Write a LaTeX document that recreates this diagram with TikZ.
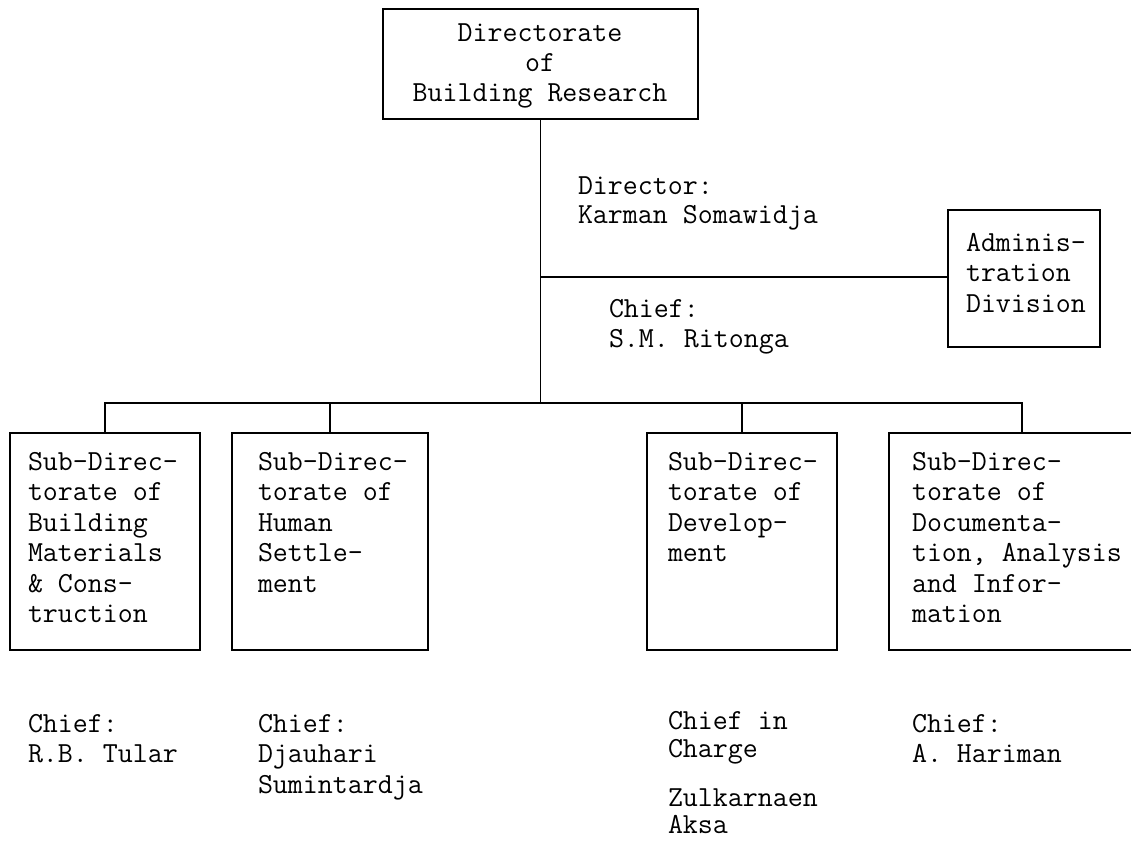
\documentclass[tikz,border=0pt]{standalone}
\usepackage{fontspec}
\begin{document}
\begin{tikzpicture}[x=1pt,y=-1pt,
  every node/.style={inner sep=0pt, outer sep=0pt},
  line/.style={line width=1.8pt, black},
  boxshape/.style={draw, line width=1.8pt, anchor=north west, minimum width=#1},
  txt/.style={anchor=north west, align=left, font=\ttfamily\fontsize{29.1}{30.5}\selectfont},
  ctxt/.style={anchor=north, align=center, font=\ttfamily\fontsize{29.1}{30}\selectfont}
]
\useasboundingbox (0,0) rectangle (1131,842);
\newcommand{\fs}{\rule{0pt}{24pt}}
% boxes
\node[boxshape=315, minimum height=110] (top) at (383,9) {};
\node[boxshape=152, minimum height=137] (admin) at (948,210) {};
\node[boxshape=190, minimum height=217] (b1) at (10,433) {};
\node[boxshape=196, minimum height=217] (b2) at (232,433) {};
\node[boxshape=190, minimum height=217] (b3) at (647,433) {};
\node[anchor=north west, minimum width=242, minimum height=217] (b4) at (889,433) {};
\draw[line] (b4.north east) -- (b4.north west) -- (b4.south west) -- (b4.south east);
% connectors
\coordinate (j1) at (top.south |- 0,277);
\coordinate (bus) at (top.south |- 0,403);
\coordinate (b4d) at (1022,433);
\draw[line] (top.south) -- (bus);
\draw[line] (j1) -- (j1 -| admin.west);
\draw[line] (b1.north) |- (bus);
\draw[line] (b2.north) |- (bus);
\draw[line] (b3.north) |- (bus);
\draw[line] (b4d) |- (bus);
% texts
\node[ctxt] (ttop) at (540,18) {\fs Directorate\\of\\Building Research};
\node[txt, font=\ttfamily\fontsize{29.1}{28.5}\selectfont] (tdir) at (578,171) {\fs Director:\\Karman Somawidja};
\node[txt] (tchief) at (609,293) {\fs Chief:\\S.M. Ritonga};
\node[txt] (tadmin) at (966,227) {\fs Adminis-\\tration\\Division};
\node[txt] (tb1) at (28,446) {\fs Sub-Direc-\\torate of\\Building\\Materials\\\& Cons-\\truction};
\node[txt] (tb2) at (258,446) {\fs Sub-Direc-\\torate of\\Human\\Settle-\\ment};
\node[txt] (tb3) at (668,446) {\fs Sub-Direc-\\torate of\\Develop-\\ment};
\node[txt] (tb4) at (912,446) {\fs Sub-Direc-\\torate of\\Documenta-\\tion, Analysis\\and Infor-\\mation};
\node[txt] (c1) at (28,708) {\fs Chief:\\R.B. Tular};
\node[txt] (c2) at (258,708) {\fs Chief:\\Djauhari\\Sumintardja};
\node[txt, font=\ttfamily\fontsize{29.1}{28}\selectfont] (c3a) at (668,705) {\fs Chief in\\Charge};
\node[txt, font=\ttfamily\fontsize{29.1}{27.5}\selectfont] (c3b) at (668,782) {\fs Zulkarnaen\\Aksa};
\node[txt] (c4) at (912,708) {\fs Chief:\\A. Hariman};
\end{tikzpicture}
\end{document}
